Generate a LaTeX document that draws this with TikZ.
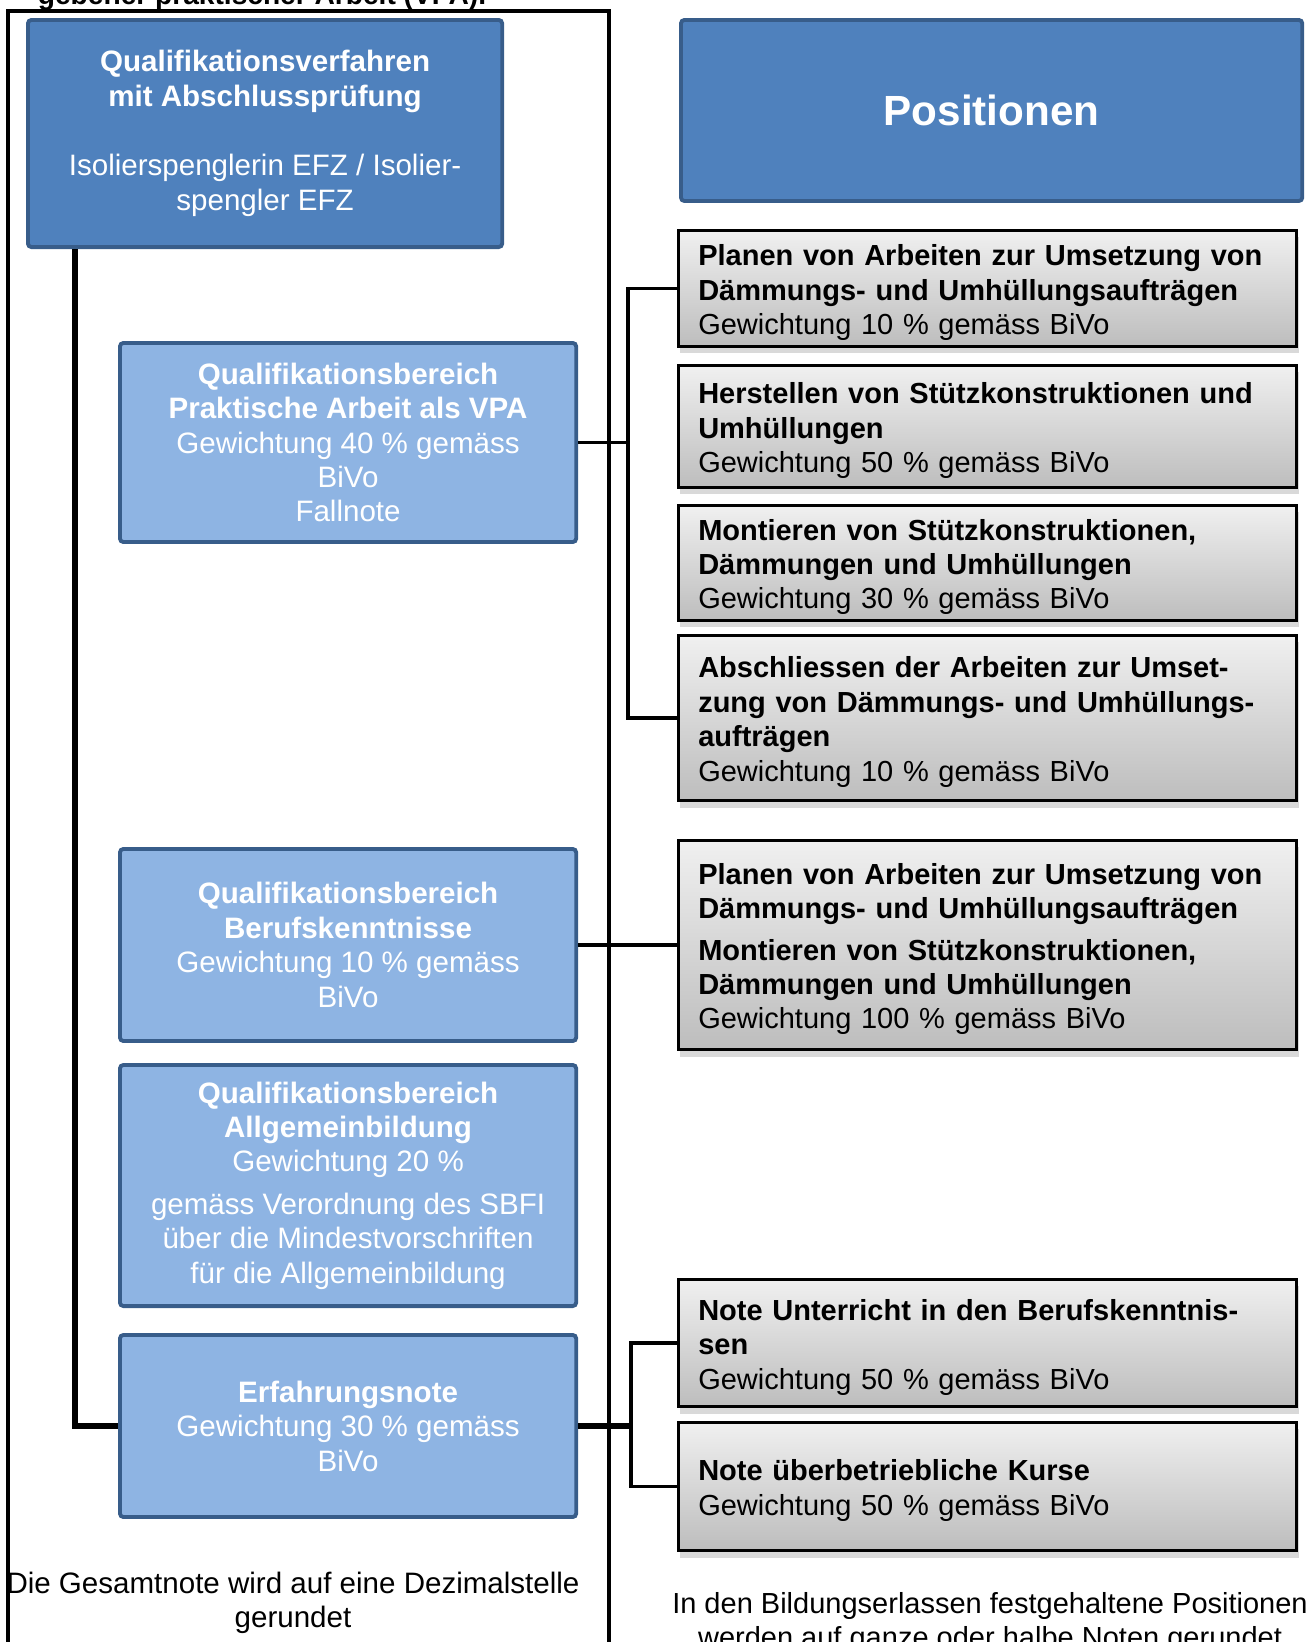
\documentclass[tikz,border=0pt]{standalone}
\usepackage{fontspec}
\setmainfont{Liberation Sans}
\usetikzlibrary{shadows}
\definecolor{qvblau}{HTML}{4F81BD}
\definecolor{qvrand}{HTML}{385D8A}
\definecolor{bereichblau}{HTML}{8EB4E3}
\definecolor{grauoben}{HTML}{F0F0F0}
\definecolor{grauunten}{HTML}{BDBDBD}

\begin{document}
\begin{tikzpicture}[x=0.01cm, y=-0.01cm,
	schrift/.style={font=\fontsize{8.4pt}{9.8pt}\selectfont},
	kopfbox/.style={schrift, draw=qvrand, fill=qvblau, line width=1.1pt,
		rounded corners=1pt, anchor=north west, text=white, align=center},
	bereichbox/.style={kopfbox, fill=bereichblau, minimum width=4.56cm},
	posbox/.style={font=\fontsize{8.25pt}{9.8pt}\selectfont, draw=black,
		line width=0.8pt, top color=grauoben, bottom color=grauunten,
		anchor=north east, align=left, text width=5.78cm, inner xsep=0.2cm,
		inner ysep=0pt, execute at begin node={\rule{0pt}{8.3pt}},
		drop shadow={shadow xshift=0.2mm, shadow yshift=-0.7mm, opacity=0.3}},
	linie/.style={line width=1.05pt},
	hauptlinie/.style={line width=1.8pt}]
	\useasboundingbox (0,0) rectangle (1309,1642);
	\clip (0,0) rectangle (1309,1642);
	% Titel oben (abgeschnitten)
	\node[schrift, anchor=base, font=\fontsize{8pt}{9.8pt}\selectfont\bfseries] (vpatitel)
		at (262,4) {gebener praktischer Arbeit (VPA).};
	% Rahmen links
	\draw[linie] (8,1660) |- (609,11) -- (609,1660);
	% Kopfzeile
	\node[kopfbox, minimum width=4.74cm, minimum height=2.27cm] (qv) at (26,18)
		{\textbf{Qualifikationsverfahren}\\\textbf{mit Abschlussprüfung}\\[0.35cm]
		Isolierspenglerin EFZ / Isolier-\\spengler EFZ};
	\node[kopfbox, minimum width=6.21cm, minimum height=1.81cm,
		font=\fontsize{12pt}{14pt}\selectfont\bfseries] (pos) at (679,18) {Positionen};
	% Qualifikationsbereiche
	\node[bereichbox, minimum height=1.99cm] (vpa) at (118,341)
		{\textbf{Qualifikationsbereich}\\\textbf{Praktische Arbeit als VPA}\\
		Gewichtung 40 \% gemäss\\BiVo\\Fallnote};
	\node[bereichbox, minimum height=1.92cm] (bk) at (118,847)
		{\textbf{Qualifikationsbereich}\\\textbf{Berufskenntnisse}\\
		Gewichtung 10 \% gemäss\\BiVo};
	\node[bereichbox, minimum height=2.41cm] (ab) at (118,1063)
		{\textbf{Qualifikationsbereich}\\\textbf{Allgemeinbildung}\\
		Gewichtung 20 \%\\[0.08cm]gemäss Verordnung des SBFI\\
		über die Mindestvorschriften\\für die Allgemeinbildung};
	\node[bereichbox, minimum height=1.82cm] (erf) at (118,1333)
		{\textbf{Erfahrungsnote}\\Gewichtung 30 \% gemäss\\BiVo};
	% Positionen
	\node[posbox, minimum height=1.16cm] (p1) at (1298,229)
		{\textbf{Planen von Arbeiten zur Umsetzung von}\\
		\textbf{Dämmungs- und Umhüllungsaufträgen}\\Gewichtung 10 \% gemäss BiVo};
	\node[posbox, minimum height=1.22cm] (p2) at (1298,364)
		{\textbf{Herstellen von Stützkonstruktionen und}\\
		\textbf{Umhüllungen}\\Gewichtung 50 \% gemäss BiVo};
	\node[posbox, minimum height=1.15cm] (p3) at (1298,504)
		{\textbf{Montieren von Stützkonstruktionen,}\\
		\textbf{Dämmungen und Umhüllungen}\\Gewichtung 30 \% gemäss BiVo};
	\node[posbox, minimum height=1.65cm] (p4) at (1298,634)
		{\textbf{Abschliessen der Arbeiten zur Umset-}\\
		\textbf{zung von Dämmungs- und Umhüllungs-}\\
		\textbf{aufträgen}\\Gewichtung 10 \% gemäss BiVo};
	\node[posbox, minimum height=2.09cm] (p5) at (1298,839)
		{\textbf{Planen von Arbeiten zur Umsetzung von}\\
		\textbf{Dämmungs- und Umhüllungsaufträgen}\\[0.07cm]
		\textbf{Montieren von Stützkonstruktionen,}\\
		\textbf{Dämmungen und Umhüllungen}\\Gewichtung 100 \% gemäss BiVo};
	\node[posbox, minimum height=1.27cm] (p6) at (1298,1278)
		{\textbf{Note Unterricht in den Berufskenntnis-}\\
		\textbf{sen}\\Gewichtung 50 \% gemäss BiVo};
	\node[posbox, minimum height=1.28cm] (p7) at (1298,1421)
		{\textbf{Note überbetriebliche Kurse}\\Gewichtung 50 \% gemäss BiVo};
	% Verbindungen
	\draw[hauptlinie] (qv.south west) ++(49,0) |- (erf.west);
	\draw[linie] (vpa.east) -- ++(50,0) coordinate (vpaknoten);
	\draw[linie] (p1.west) -| (vpaknoten) |- (p4.west);
	\draw[linie] (bk.east) -- (bk.east -| p5.west);
	\draw[hauptlinie] (erf.east) -- ++(53,0) coordinate (erfknoten);
	\draw[linie] (p6.west) -| (erfknoten) |- (p7.west);
	% Hinweise unten
	\node[schrift, align=center] (gesamtnote) at (293,1603)
		{Die Gesamtnote wird auf eine Dezimalstelle\\gerundet};
	\node[font=\fontsize{8.25pt}{9.8pt}\selectfont, align=center] (rundung) at (990,1623)
		{In den Bildungserlassen festgehaltene Positionen\\werden auf ganze oder halbe Noten gerundet};
\end{tikzpicture}
\end{document}
